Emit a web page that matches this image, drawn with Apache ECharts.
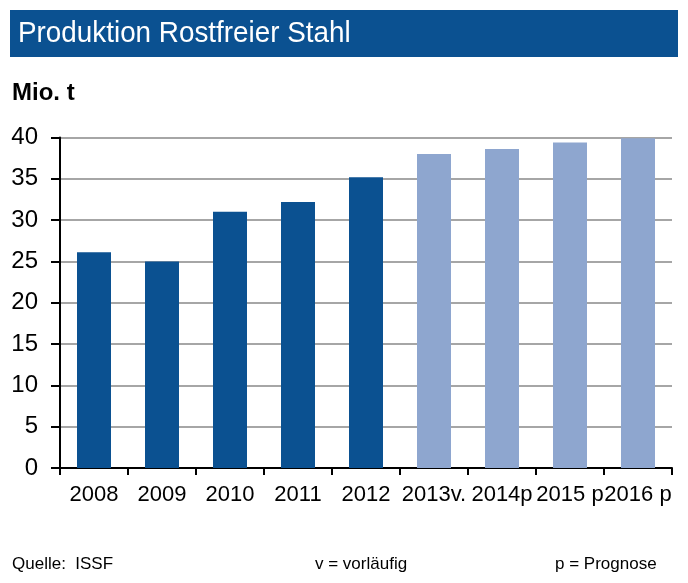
<!DOCTYPE html>
<html><head><meta charset="utf-8">
<script src="https://cdn.jsdelivr.net/npm/echarts@6/dist/echarts.min.js"></script>
<style>html,body{margin:0;padding:0;background:#fff}#c{width:688px;height:583px}</style>
</head><body><div id="c"></div>
<script>
const categories = ['2008','2009','2010','2011','2012','2013v.','2014p','2015 p','2016 p'];
const values = [26.1, 25.0, 31.0, 32.2, 35.2, 38.0, 38.6, 39.4, 39.9];
const forecastFrom = 5;
const yTicks = [0,5,10,15,20,25,30,35,40];
const DARK = '#0b5191', LIGHT = '#8ea6cf';
const chart = echarts.init(document.getElementById('c'));
const F = '"Liberation Sans", Arial, sans-serif';
chart.setOption({
  animation: false,
  grid: {left: 60, right: 16, top: 137.5, bottom: 115, containLabel: false},
  graphic: [
    {type:'rect', left:10, top:10, shape:{width:668, height:47}, style:{fill:DARK}},
    {type:'text', x:18, y:19, scaleX:0.96, style:{text:'Produktion Rostfreier Stahl', fill:'#fff', font:'29px '+F}},
    {type:'text', x:12, y:81, style:{text:'Mio. t', fill:'#000', font:'bold 24px '+F}},
    {type:'text', left:12, top:556, style:{text:'Quelle:  ISSF', fill:'#000', font:'17px '+F}},
    {type:'text', left:315, top:556, style:{text:'v = vorläufig', fill:'#000', font:'17px '+F}},
    {type:'text', left:555, top:556, style:{text:'p = Prognose', fill:'#000', font:'17px '+F}}
  ],
  xAxis: {
    type:'category', data: categories,
    axisLine:{lineStyle:{color:'#000', width:2}},
    axisTick:{show:true, length:7, inside:false, lineStyle:{color:'#000', width:2}},
    axisLabel:{color:'#000', fontSize:22, fontFamily:F, margin:16, interval:0, hideOverlap:false}
  },
  yAxis: {
    type:'value', min:0, max:40, interval:5,
    axisLine:{show:true, lineStyle:{color:'#000', width:2}},
    axisTick:{show:true, length:9, lineStyle:{color:'#000', width:2}},
    splitLine:{lineStyle:{color:'#a6a6a6', width:2}},
    axisLabel:{color:'#000', fontSize:24, fontFamily:F, margin:22,
      formatter: v => yTicks.includes(v) ? String(v) : ''}
  },
  series: [{
    type:'bar', barWidth:'50%',
    data: values.map((v,i) => ({value:v, itemStyle:{color: i >= forecastFrom ? LIGHT : DARK}}))
  }]
});
</script></body></html>
